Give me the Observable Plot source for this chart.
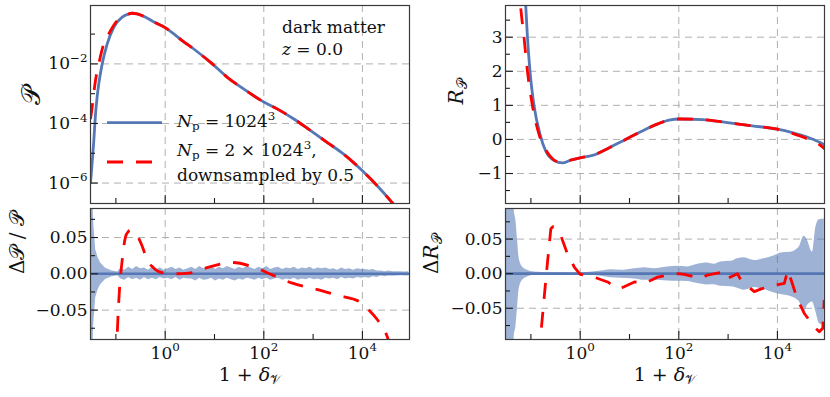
<!DOCTYPE html>
<html><head><meta charset="utf-8">
<script src="https://cdn.jsdelivr.net/npm/d3@7"></script>
<script src="https://cdn.jsdelivr.net/npm/@observablehq/plot@0.6"></script>
<style>
html,body{margin:0;padding:0;background:#fff;}
#fig{position:relative;width:830px;height:397px;overflow:hidden;font-family:"DejaVu Serif",serif;}
#fig svg{position:absolute;overflow:visible;}
#fig svg text{font-family:"DejaVu Serif",serif;}
</style></head><body><div id="fig"></div>
<script>
// ---------- data (x values stored as log10 of 1+delta) ----------
const xDomainExp = [-1.515, 4.955];
const xMajorExp = [0, 2, 4];
const xMinorExp = [-1, 1, 3];
const xTickLabels = ["10^{0}", "10^{2}", "10^{4}"];

// top-left: P (log10 values)
const pDomainExp = [-6.686, -0.04];
const pMajorExp = [-2, -4, -6];
const pMinorExp = [-1, -3, -5];
const pTickLabels = ["10^{−2}", "10^{−4}", "10^{−6}"];
const pBlueExpX = [-1.515,-1.49,-1.465,-1.448,-1.43,-1.414,-1.38,-1.347,-1.278,-1.176,-1.043,-0.872,-0.75,-0.669,-0.57,-0.467,-0.197,0.006,0.175,0.345,0.58,0.92,1.26,1.59,2.01,2.27,2.61,2.95,3.29,3.62,4.0,4.30,4.60,4.75];
const pBlueExpY = [-6.0,-5.5,-4.95,-4.58,-4.1,-3.7,-3.1,-2.67,-2.0,-1.33,-0.77,-0.43,-0.33,-0.30,-0.32,-0.38,-0.62,-0.79,-0.99,-1.22,-1.50,-1.95,-2.45,-2.84,-3.29,-3.51,-3.85,-4.24,-4.64,-5.03,-5.59,-6.09,-6.65,-6.95];
const pRedExpX = [-1.515,-1.494,-1.45,-1.414,-1.347,-1.246,-1.145,-0.976,-0.807,-0.669,-0.57,-0.467,-0.197,0.006,0.175,0.345,0.58,0.92,1.26,1.59,2.01,2.27,2.61,2.95,3.29,3.62,4.0,4.30,4.60,4.75];
const pRedExpY = [-3.85,-3.62,-3.0,-2.56,-2.0,-1.33,-0.99,-0.55,-0.37,-0.30,-0.32,-0.38,-0.62,-0.79,-0.99,-1.22,-1.50,-1.95,-2.45,-2.84,-3.29,-3.51,-3.85,-4.24,-4.64,-5.03,-5.59,-6.09,-6.65,-6.95];

// top-right: R_P
const rDomain = [-1.88, 3.93];
const rMajor = [-1, 0, 1, 2, 3];
const rMinor = [-1.5, -0.5, 0.5, 1.5, 2.5, 3.5];
const rTickLabels = ["−1", "0", "1", "2", "3"];
const rBlueExpX = [-1.15,-1.105,-1.07,-1.018,-0.937,-0.815,-0.70,-0.53,-0.36,-0.2,0.0,0.25,0.58,0.92,1.26,1.60,1.80,2.02,2.48,2.95,3.49,4.0,4.30,4.64,4.88,4.96];
const rBlue = [4.7,3.93,3.0,2.0,1.0,0.15,-0.34,-0.62,-0.69,-0.61,-0.54,-0.47,-0.25,0.0,0.25,0.47,0.57,0.60,0.58,0.50,0.40,0.30,0.20,0.05,-0.10,-0.17];
const rRedExpX = [-1.25,-1.21,-1.14,-1.07,-0.97,-0.835,-0.665,-0.55,-0.42,-0.36,-0.2,0.0,0.25,0.58,0.92,1.26,1.60,1.80,2.02,2.48,2.95,3.49,4.0,4.30,4.64,4.88,4.96];
const rRed = [4.7,3.93,3.0,2.0,1.0,0.15,-0.38,-0.58,-0.67,-0.68,-0.61,-0.54,-0.47,-0.25,0.0,0.25,0.47,0.57,0.60,0.58,0.50,0.40,0.30,0.18,0.0,-0.18,-0.28];

// bottom-left: relative difference of P
const dpDomain = [-0.0905, 0.09];
const dMajor = [-0.05, 0, 0.05];
const dMinor = [-0.075, -0.025, 0.025, 0.075];
const dTickLabels = ["−0.05", "0.00", "0.05"];
const dpRedExpX = [-0.99,-0.974,-0.94,-0.872,-0.805,-0.75,-0.70,-0.60,-0.466,-0.365,-0.25,-0.13,0.142,0.48,0.82,1.22,1.36,1.76,2.17,2.58,3.05,3.52,3.93,4.13,4.30,4.50,4.56];
const dpRed = [-0.12,-0.086,-0.036,0.019,0.051,0.058,0.060,0.056,0.038,0.019,0.009,0.003,0.0,0.001,0.0078,0.0147,0.0156,0.010,-0.0014,-0.0129,-0.021,-0.030,-0.038,-0.050,-0.063,-0.086,-0.098];
const dpBandEdgeExpX = [-1.52,-1.48,-1.45,-1.41,-1.36,-1.31,-1.21,-1.075,-0.96];
const dpBandEdgeHalf = [0.3,0.13,0.07,0.033,0.022,0.015,0.0078,0.004,0.0025];
const dpNoiseStartExp = -0.9, dpNoiseStepExp = 0.08;   // sampling grid of the noisy band
const dpNoiseUp = [8,5,9,6,10,7,8,5,9, 6,8,5,7,9,6,8,5,7, 9,6,10,7,8,11,6,9,7,10,8,6,9,7,10, 8,6,9,7,10,6,8,9,6,8,7,9,6,8,7,9,6,8,7,8,6, 7,5,8,6,7,5,7,6,6,5,6,4, 4,3,4,3,3,3,2.5,3]; // x 1e-3
const dpNoiseLo = [7,9,5,8,6,9,5,8,6, 8,5,7,6,8,5,9,6,7, 7,10,6,9,8,6,10,7,9,6,8,10,7,9,6, 7,9,6,8,6,9,7,6,9,7,8,6,9,7,8,6,8,7,9,6,7, 6,8,5,7,6,7,5,6,5,6,4,5, 3,4,3,3.5,3,2.5,3,3]; // x 1e-3

// bottom-right: difference of R_P
const drDomain = [-0.0952, 0.0942];
const drBandExpX = [-1.52,-1.36,-1.338,-1.304,-1.27,-1.237,-1.169,-1.068,-0.933,-0.595,0.0,0.082,0.42,0.62,0.825,1.10,1.30,1.50,1.77,1.98,2.18,2.38,2.58,2.72,2.85,3.06,3.19,3.33,3.53,3.73,3.94,4.07,4.27,4.44,4.54,4.61,4.71,4.78,4.85,4.95];
const drBandUp = [0.3,0.2,0.091,0.077,0.048,0.022,0.0096,0.0048,0.0024,0.0012,0.001,0.0012,0.0038,0.0058,0.0048,0.0072,0.0087,0.0072,0.0096,0.0106,0.0096,0.0135,0.0154,0.0135,0.0168,0.0178,0.0216,0.023,0.019,0.0216,0.026,0.030,0.031,0.038,0.054,0.048,0.031,0.067,0.078,0.079];
const drBandLo = [-0.3,-0.2,-0.091,-0.077,-0.048,-0.022,-0.0096,-0.0048,-0.0024,-0.0012,-0.001,-0.0012,-0.0038,-0.0058,-0.0065,-0.0077,-0.0096,-0.009,-0.0106,-0.011,-0.0115,-0.0144,-0.0163,-0.016,-0.0183,-0.019,-0.021,-0.024,-0.020,-0.023,-0.028,-0.030,-0.033,-0.040,-0.055,-0.046,-0.041,-0.055,-0.072,-0.075];
const drRedExpX = [-0.83,-0.80,-0.73,-0.66,-0.595,-0.55,-0.50,-0.393,-0.26,-0.12,0.0,0.28,0.556,0.76,0.89,1.10,1.30,1.57,1.77,1.98,2.11,2.45,2.58,2.92,2.99,3.19,3.26,3.53,3.67,3.94,4.14,4.21,4.28,4.41,4.55,4.75,4.85,4.92,4.95];
const drRed = [-0.12,-0.089,-0.034,0.019,0.065,0.068,0.064,0.055,0.029,0.0096,-0.001,-0.005,-0.012,-0.022,-0.019,-0.012,-0.014,-0.005,-0.002,0.0,-0.001,-0.007,-0.002,0.0024,-0.007,0.0,-0.0096,-0.026,-0.022,-0.017,-0.014,0.005,-0.0096,-0.038,-0.058,-0.077,-0.084,-0.079,-0.038];

// text
const labelP = "𝒫";
const labelDP = "Δ𝒫 / 𝒫";
const labelR = "*R*_{𝒫}";
const labelDR = "Δ*R*_{𝒫}";
const labelX = "1 + *δ*_{𝒱}";
const legendLabels = ["*N*_{p} = 1024^{3}", "*N*_{p} = 2 × 1024^{3},", "downsampled by 0.5"];
const annotation = ["dark matter", "*z* = 0.0"];

// ---------- styling ----------
const FONT = "DejaVu Serif, serif";
const FS = 17;
const BLUE = "#5577b5", BAND = "#4c72b0", RED = "#ff0000", GRID = "#b0b0b0", INK = "#111";
const DASH = "16,13";

const p10 = e => 10 ** e;
const xDomain = xDomainExp.map(p10);
const xMajor = xMajorExp.map(p10), xMinor = xMinorExp.map(p10);
const rows = (xs, ys, fy = v => v) => xs.map((e, i) => ({x: p10(e), y: fy(ys[i])}));

function texify(root) {
  const NS = "http://www.w3.org/2000/svg";
  const els = Array.from(root.querySelectorAll("text, tspan"))
    .filter(el => el.children.length === 0 && /[\^_*]/.test(el.textContent));
  for (const el of els) {
    const s = el.textContent;
    const size = parseFloat(getComputedStyle(el).fontSize) || FS;
    el.textContent = "";
    const re = /\^\{([^}]*)\}|_\{([^}]*)\}|\*([^*]*)\*|([^\^_*]+)/g;
    let m, cur = 0;
    while ((m = re.exec(s))) {
      let txt, target = 0, small = false, ital = false;
      if (m[1] !== undefined) { txt = m[1]; target = -0.42 * size; small = true; }
      else if (m[2] !== undefined) { txt = m[2]; target = 0.2 * size; small = true; }
      else if (m[3] !== undefined) { txt = m[3]; ital = true; }
      else txt = m[4];
      const t = document.createElementNS(NS, "tspan");
      if (target !== cur) { t.setAttribute("dy", (target - cur).toFixed(2)); cur = target; }
      if (small) t.setAttribute("font-size", (0.7 * size).toFixed(1));
      if (ital) t.setAttribute("font-style", "italic");
      t.textContent = txt;
      el.appendChild(t);
    }
  }
}

const fig = document.getElementById("fig");
function place(svg, left, top) {
  svg.style.left = left + "px"; svg.style.top = top + "px";
  svg.style.background = "transparent";
  svg.style.maxWidth = "none";
  fig.appendChild(svg);
  texify(svg);
}

const W = 415, ML = 90, MR = 6;
const innerW = W - ML - MR;

function panel({height, mt, mb, yScale, yMajor, yMinor, yLabels, yTitle, yTitleDx, yTitleSize, data, xLabels}) {
  const innerH = height - mt - mb;
  const tick = {stroke: "#1a1a1a", strokeWidth: 1.1};
  const marks = [
    Plot.ruleX(xMajor, {x: d => d, stroke: GRID, strokeWidth: 1, strokeDasharray: "7,5"}),
    Plot.ruleY(yMajor, {y: d => d, stroke: GRID, strokeWidth: 1, strokeDasharray: "7,5"}),
    ...data,
    Plot.tickX(xMajor, {x: d => d, insetTop: innerH - 8, ...tick}),
    Plot.tickX(xMinor, {x: d => d, insetTop: innerH - 5, ...tick}),
    Plot.tickY(yMajor, {y: d => d, insetRight: innerW - 8, ...tick}),
    Plot.tickY(yMinor, {y: d => d, insetRight: innerW - 5, ...tick}),
    Plot.frame({stroke: "#3a3a3a", strokeWidth: 1.2}),
    Plot.text(yLabels, {y: (d, i) => yMajor[i], text: d => d, frameAnchor: "left", textAnchor: "end", dx: -3, fontSize: FS, fill: INK}),
    Plot.text([yTitle], {text: d => d, frameAnchor: "left", dx: yTitleDx, rotate: -90, fontSize: yTitleSize, fill: INK})
  ];
  if (xLabels) {
    marks.push(Plot.text(xTickLabels, {x: (d, i) => xMajor[i], text: d => d, frameAnchor: "bottom", dy: 19, fontSize: FS, fill: INK}));
    marks.push(Plot.text([labelX], {text: d => d, frameAnchor: "bottom", dy: 41, fontSize: 19, fill: INK}));
  }
  return Plot.plot({
    width: W, height, marginLeft: ML, marginRight: MR, marginTop: mt, marginBottom: mb,
    x: {type: "log", domain: xDomain, axis: null},
    y: {...yScale, axis: null},
    style: {fontFamily: FONT, fontSize: FS + "px", overflow: "visible"},
    marks
  });
}

const lineOpts = (stroke, dashed) => ({x: "x", y: "y", stroke, strokeWidth: 2.8, curve: "monotone-x", clip: true,
  strokeLinecap: "butt", ...(dashed ? {strokeDasharray: DASH} : {})});

// top-left
place(panel({
  height: 206, mt: 5, mb: 3,
  yScale: {type: "log", domain: pDomainExp.map(p10)},
  yMajor: pMajorExp.map(p10), yMinor: pMinorExp.map(p10), yLabels: pTickLabels,
  yTitle: labelP, yTitleDx: -59, yTitleSize: 26,
  data: [
    Plot.line(rows(pBlueExpX, pBlueExpY, p10), lineOpts(BLUE, false)),
    Plot.line(rows(pRedExpX, pRedExpY, p10), lineOpts(RED, true))
  ]
}), 0, 0);

// top-right
place(panel({
  height: 206, mt: 5, mb: 3,
  yScale: {type: "linear", domain: rDomain},
  yMajor: rMajor, yMinor: rMinor, yLabels: rTickLabels,
  yTitle: labelR, yTitleDx: -49, yTitleSize: 20,
  data: [
    Plot.line(rows(rBlueExpX, rBlue), lineOpts(BLUE, false)),
    Plot.line(rows(rRedExpX, rRed), lineOpts(RED, true))
  ]
}), 415, 0);

// bottom-left band rows
const dpBand = dpBandEdgeExpX.map((e, i) => ({x: p10(e), hi: dpBandEdgeHalf[i], lo: -dpBandEdgeHalf[i]}))
  .concat(dpNoiseUp.map((u, i) => ({x: p10(dpNoiseStartExp + i * dpNoiseStepExp), hi: u / 1000, lo: -dpNoiseLo[i] / 1000})));

place(panel({
  height: 191, mt: 2, mb: 58,
  yScale: {type: "linear", domain: dpDomain},
  yMajor: dMajor, yMinor: dMinor, yLabels: dTickLabels,
  yTitle: labelDP, yTitleDx: -73, yTitleSize: 20, xLabels: true,
  data: [
    Plot.areaY(dpBand, {x: "x", y1: "lo", y2: "hi", fill: BAND, fillOpacity: 0.55, clip: true}),
    Plot.ruleY([0], {stroke: BLUE, strokeWidth: 2.6}),
    Plot.line(rows(dpRedExpX, dpRed), lineOpts(RED, true))
  ]
}), 0, 206);

const drBand = drBandExpX.map((e, i) => ({x: p10(e), hi: drBandUp[i], lo: drBandLo[i]}));
place(panel({
  height: 191, mt: 2, mb: 58,
  yScale: {type: "linear", domain: drDomain},
  yMajor: dMajor, yMinor: dMinor, yLabels: dTickLabels,
  yTitle: labelDR, yTitleDx: -74, yTitleSize: 20, xLabels: true,
  data: [
    Plot.areaY(drBand, {x: "x", y1: "lo", y2: "hi", fill: BAND, fillOpacity: 0.55, curve: "monotone-x", clip: true}),
    Plot.ruleY([0], {stroke: BLUE, strokeWidth: 2.6}),
    Plot.line(rows(drRedExpX, drRed), {...lineOpts(RED, true), curve: "linear"})
  ]
}), 415, 206);

// legend + annotation overlay (top-left panel)
const ov = d3.select(fig).append("svg").attr("width", 830).attr("height", 397)
  .style("left", "0px").style("top", "0px")
  .attr("font-family", FONT).attr("font-size", FS).attr("fill", INK);
ov.append("line").attr("x1", 107).attr("x2", 162).attr("y1", 122.7).attr("y2", 122.7)
  .attr("stroke", BLUE).attr("stroke-width", 2.8);
ov.append("line").attr("x1", 107).attr("x2", 162).attr("y1", 162).attr("y2", 162)
  .attr("stroke", RED).attr("stroke-width", 2.8).attr("stroke-dasharray", DASH);
[127, 156, 181].forEach((yb, i) => ov.append("text").attr("x", 177).attr("y", yb).text(legendLabels[i]));
[33, 55].forEach((yb, i) => ov.append("text").attr("x", 282).attr("y", yb).text(annotation[i]));
texify(ov.node());
</script></body></html>
